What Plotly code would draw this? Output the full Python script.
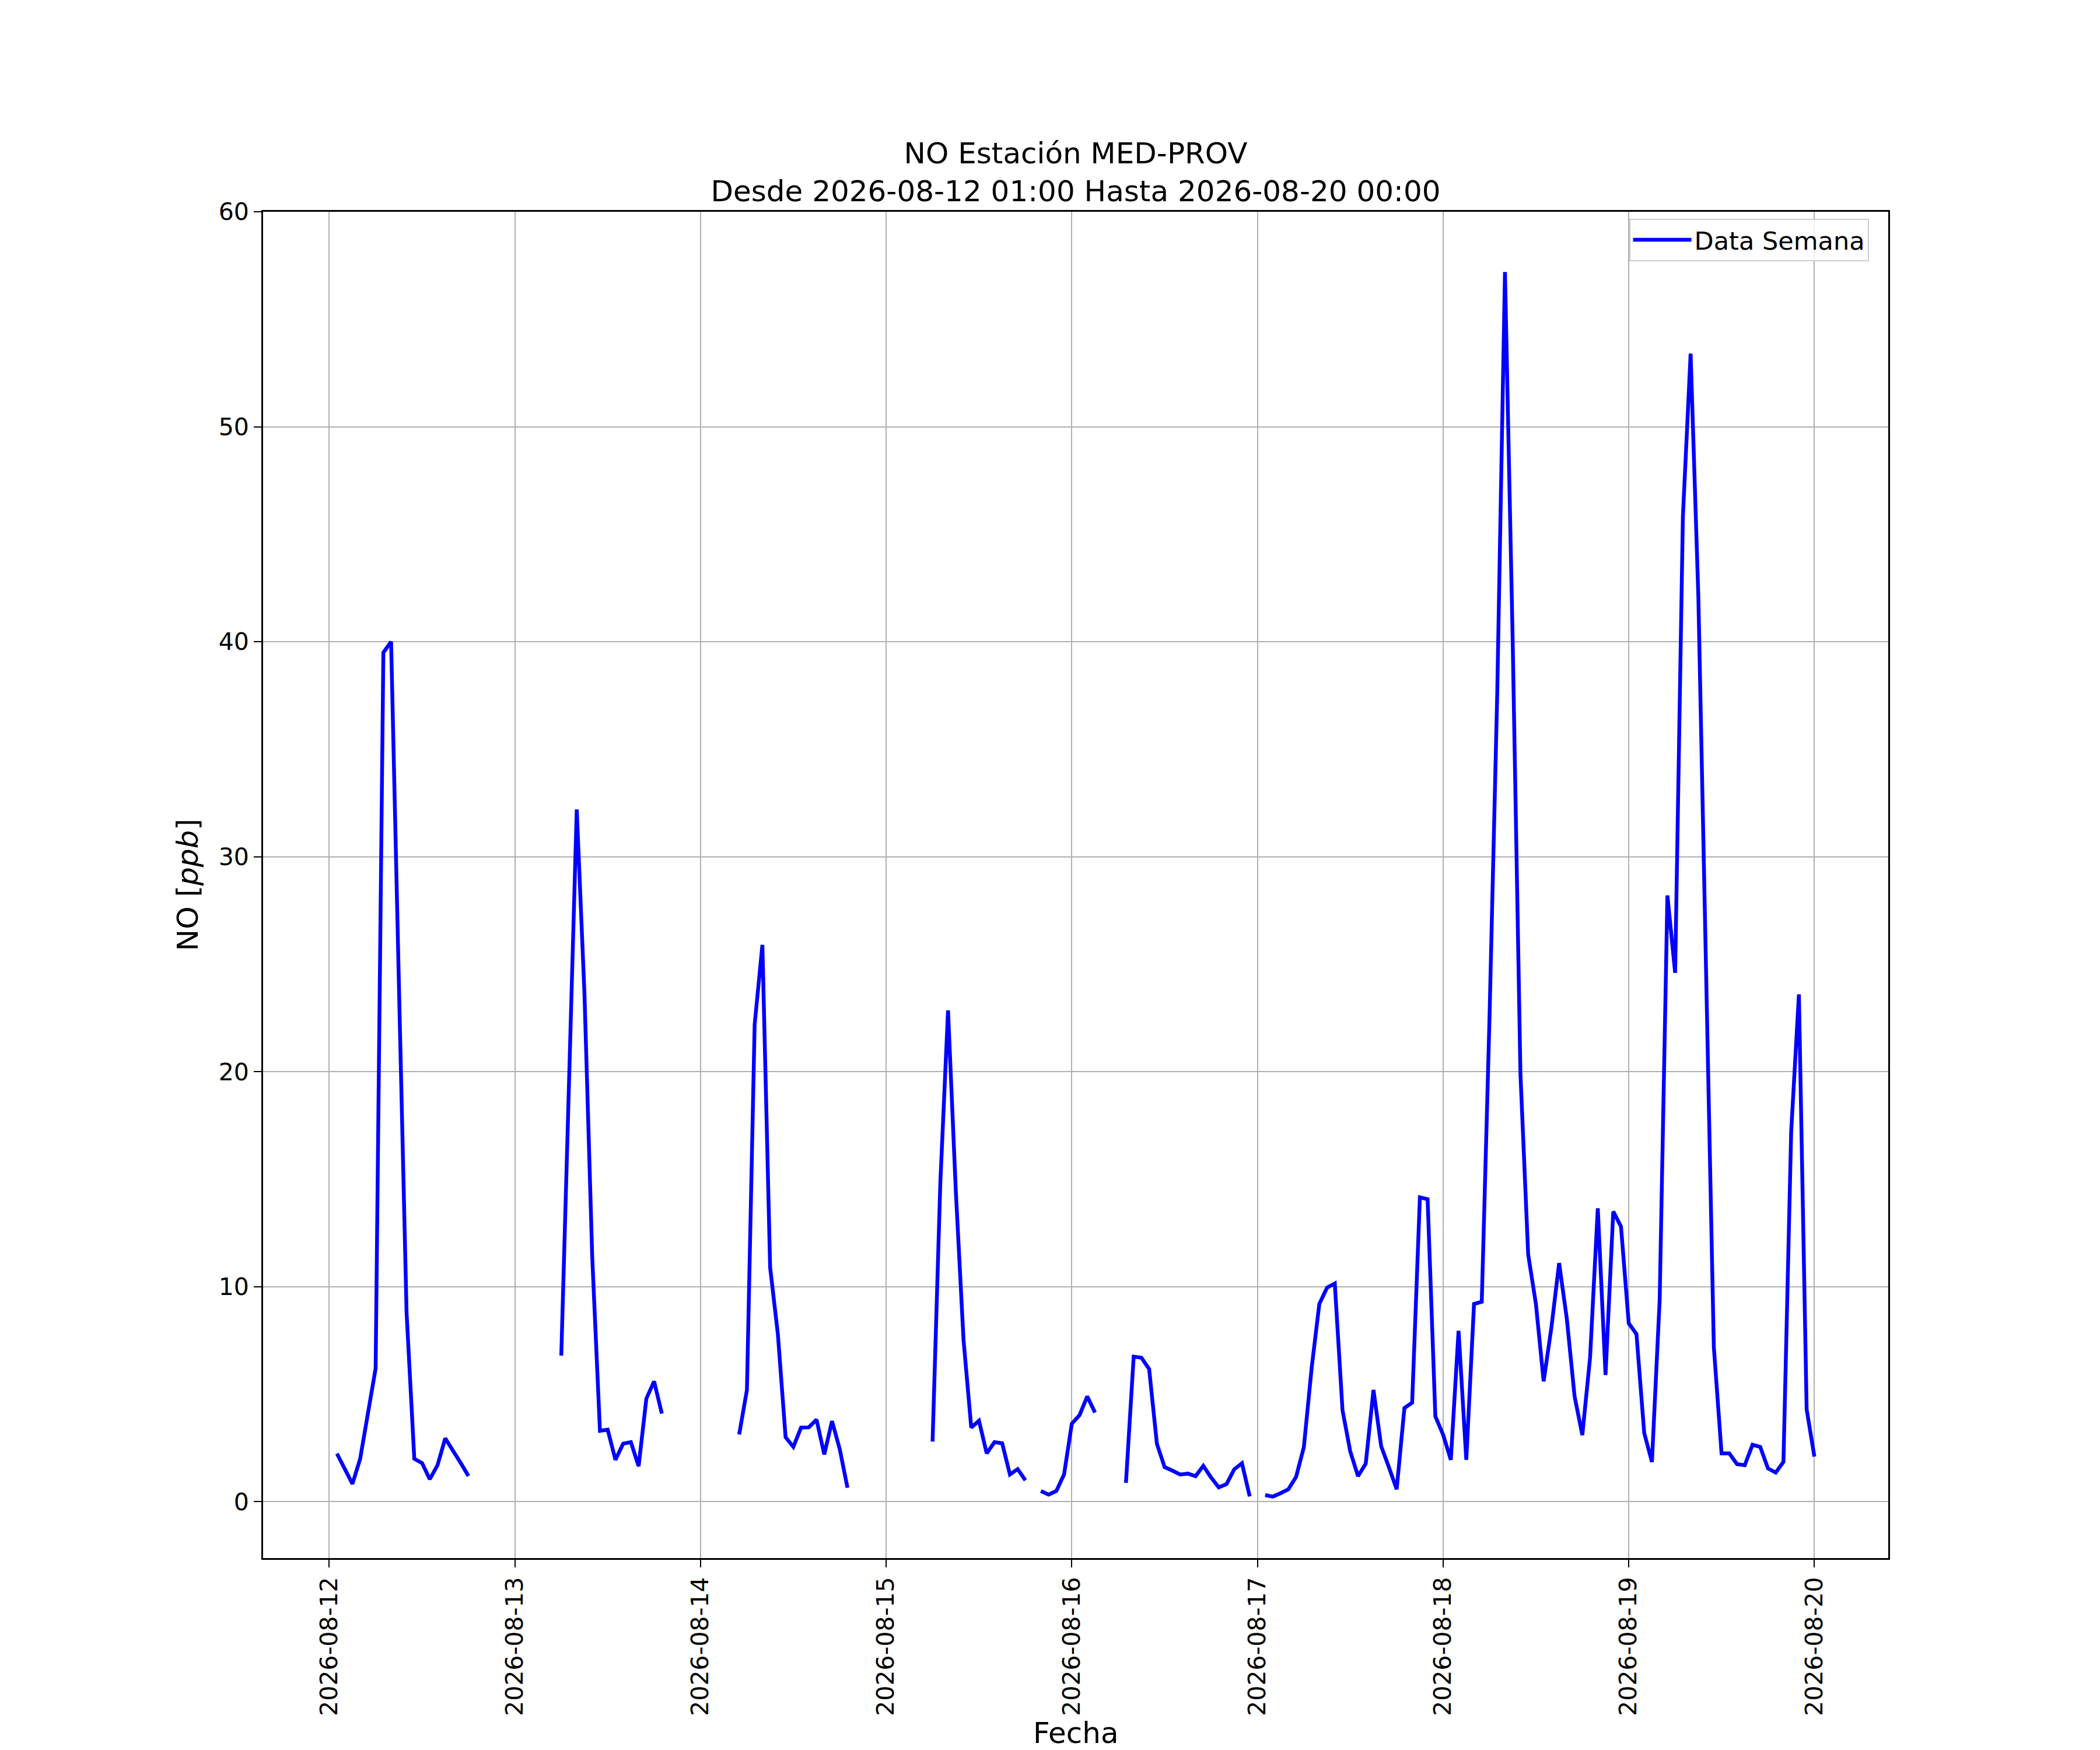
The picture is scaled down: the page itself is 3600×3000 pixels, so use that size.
import pandas as pd
import plotly.graph_objects as go

# hourly NO values (ppb), one list per day, hours 00..23, None = no data
no_0812 = [None, 2.24, 1.5, 0.83, 2.0, 4.0, 6.2, 39.5, 40.0, 24.2, 8.8, 2.0,
           1.8, 1.05, 1.7, 2.95, 2.4, 1.8, 1.2, None, None, None, None, None]
no_0813 = [None, None, None, None, None, None, 6.8, 19.5, 32.2, 23.6, 11.4, 3.3,
           3.35, 1.95, 2.7, 2.77, 1.65, 4.8, 5.6, 4.1, None, None, None, None]
no_0814 = [None, None, None, None, None, 3.13, 5.2, 22.2, 25.9, 10.9, 7.8, 3.0,
           2.55, 3.45, 3.46, 3.82, 2.2, 3.75, 2.45, 0.65, None, None, None, None]
no_0815 = [None, None, None, None, None, None, 2.8, 14.8, 22.85, 14.5, 7.55, 3.45,
           3.77, 2.25, 2.77, 2.72, 1.27, 1.52, 1.0, None, 0.5, 0.33, 0.5, 1.27]
no_0816 = [3.63, 4.03, 4.9, 4.15, None, None, None, 0.88, 6.75, 6.7, 6.17, 2.7,
           1.61, 1.45, 1.27, 1.31, 1.19, 1.67, 1.13, 0.67, 0.82, 1.51, 1.79, 0.25]
no_0817 = [None, 0.31, 0.24, 0.4, 0.58, 1.16, 2.54, 6.2, 9.2, 9.96, 10.15, 4.25,
           2.34, 1.19, 1.77, 5.2, 2.58, 1.6, 0.58, 4.36, 4.61, 14.16, 14.07, 3.97]
no_0818 = [3.12, 1.95, 7.95, 1.95, 9.2, 9.3, 22.5, 37.6, 57.2, 40.0, 19.9, 11.5,
           9.2, 5.6, 8.1, 11.1, 8.5, 4.9, 3.1, 6.7, 13.65, 5.9, 13.5, 12.8]
no_0819 = [8.3, 7.8, 3.2, 1.85, 9.4, 28.2, 24.6, 45.8, 53.4, 42.1, 24.9, 7.2,
           2.25, 2.25, 1.75, 1.7, 2.65, 2.55, 1.55, 1.36, 1.85, 17.2, 23.6, 4.3]
no_0820 = [2.1]

days = ["2026-08-12", "2026-08-13", "2026-08-14", "2026-08-15",
        "2026-08-16", "2026-08-17", "2026-08-18", "2026-08-19", "2026-08-20"]
day_values = [no_0812, no_0813, no_0814, no_0815, no_0816,
              no_0817, no_0818, no_0819, no_0820]

y_ticks = [0, 10, 20, 30, 40, 50, 60]

FONT = "DejaVu Sans"
W, H = 3600, 3000
M = dict(l=443, r=371, t=355, b=337)


def build_series():
    times = []
    values = []
    for day, vals in zip(days, day_values):
        hours = pd.date_range(day, periods=len(vals), freq="h")
        times.extend(hours)
        values.extend(vals)
    s = pd.Series(values, index=times, dtype="float")
    # series starts at 01:00 of the first day
    return s.loc["2026-08-12 01:00":]


def plot_week(s):
    fig = go.Figure()
    fig.add_trace(go.Scatter(x=s.index, y=s.values, mode="lines", name="Data Semana",
                             line=dict(color="#0000ff", width=6.5),
                             connectgaps=False, showlegend=True))

    axis_common = dict(showline=True, linecolor="black", linewidth=3, mirror=True,
                       showgrid=True, gridcolor="#b0b0b0", gridwidth=2,
                       zeroline=False, ticks="outside", ticklen=13, tickwidth=2,
                       tickcolor="black", tickfont=dict(family=FONT, size=41, color="black"))

    plot_h = H - M["t"] - M["b"]
    fig.update_layout(
        width=W, height=H,
        margin=M,
        paper_bgcolor="white", plot_bgcolor="white",
        font=dict(family=FONT, color="black"),
        title=dict(text="NO Estación MED-PROV<br>Desde 2026-08-12 01:00 Hasta 2026-08-20 00:00",
                   x=0.5, xref="paper", xanchor="center",
                   y=1 - 272 / H, yref="container", yanchor="bottom",
                   font=dict(family=FONT, size=50, color="black")),
        legend=dict(x=0.988, y=0.995, xanchor="right", yanchor="top", itemwidth=100,
                    bgcolor="rgba(255,255,255,0.8)", bordercolor="#cccccc", borderwidth=2,
                    font=dict(family=FONT, size=43, color="black")),
    )
    # x label as annotation so it sits just above the bottom edge
    fig.add_annotation(text="Fecha", xref="paper", yref="paper", x=0.5,
                       y=-(M["b"] - 6) / plot_h, xanchor="center", yanchor="bottom",
                       showarrow=False, font=dict(family=FONT, size=50, color="black"))
    fig.update_xaxes(type="date", range=["2026-08-11 15:27", "2026-08-20 09:33"],
                     tickvals=pd.to_datetime(days), ticktext=days, tickangle=-90,
                     **axis_common)
    fig.update_yaxes(range=[-2.62, 60], tickvals=y_ticks,
                     title=dict(text="NO [<i>ppb</i>]", standoff=20, font=dict(family=FONT, size=50)),
                     **axis_common)
    return fig


if __name__ == "__main__":
    series = build_series()
    fig = plot_week(series)
    fig.write_html("out.html")
